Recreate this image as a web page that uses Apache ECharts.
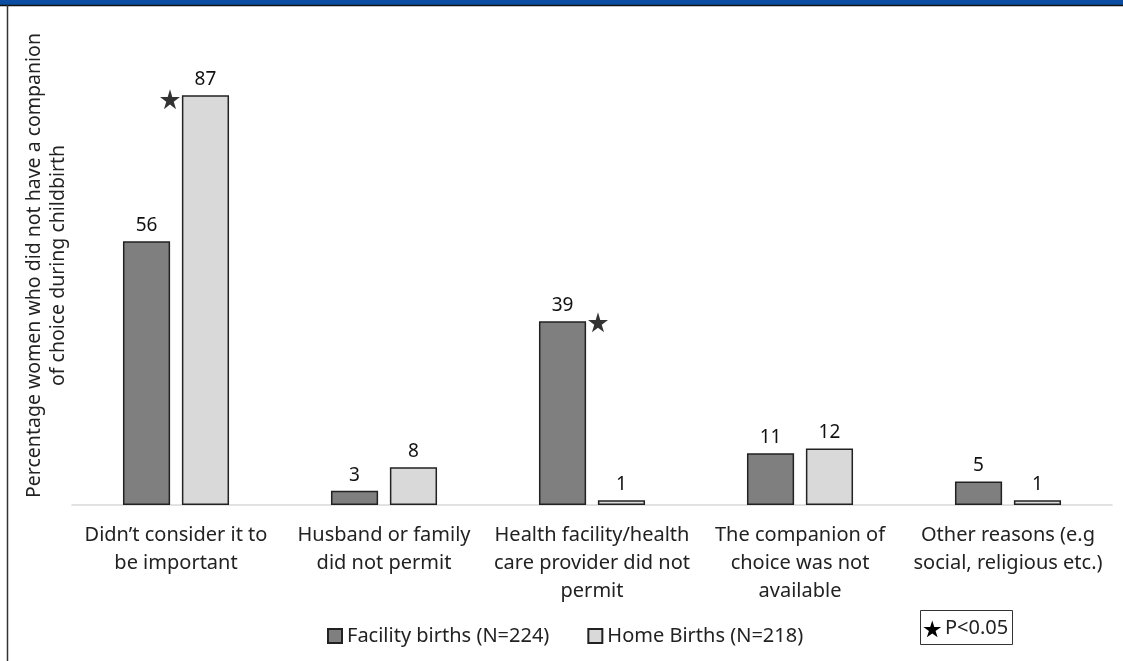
<!DOCTYPE html>
<html>
<head>
<meta charset="utf-8">
<script src="https://cdn.jsdelivr.net/npm/echarts@6/dist/echarts.min.js"></script>
<style>html,body{margin:0;padding:0;background:#fff}#c{width:1123px;height:661px}</style>
</head>
<body>
<div id="c"></div>
<script>
const categories = [
  "Didn\u2019t consider it to\nbe important",
  "Husband or family\ndid not permit",
  "Health facility/health\ncare provider did not\npermit",
  "The companion of\nchoice was not\navailable",
  "Other reasons (e.g\nsocial, religious etc.)"
];
const facilityName = "Facility births (N=224)";
const homeName = "Home Births (N=218)";
const facilityValues = [56, 3, 39, 11, 5];
const homeValues = [87, 8, 1, 12, 1];
const yAxisTitle = "Percentage women who did not have a companion\nof choice during childbirth";
const sigLabel = "P<0.05";
// significant markers: [category index, value]
const facilityStars = [[2, 39]];
const homeStars = [[0, 87]];

const FONT = "Noto Sans";
const STAR_PTS = [[50,0],[61,35],[98,35],[68,57],[79,91],[50,70],[21,91],[32,57],[2,35],[39,35]];
const STAR = 'path://M' + STAR_PTS.map(p => p.join(',')).join(' L') + ' Z';
const boxStar = STAR_PTS.map(p => [923 + p[0] * 0.185, 620.5 + p[1] * 0.185]);

const chart = echarts.init(document.getElementById('c'), null, {renderer: 'canvas'});
chart.setOption({
  backgroundColor: '#fff',
  animation: false,
  textStyle: {fontFamily: FONT},
  grid: {left: 72, right: 11, top: 34, bottom: 156, containLabel: false, outerBoundsMode: 'none'},
  legend: {
    data: [facilityName, homeName],
    left: 322, top: 620,
    itemWidth: 14, itemHeight: 14, itemGap: 38,
    icon: 'rect',
    textStyle: {fontFamily: FONT, fontSize: 20, color: '#222', lineHeight: 22}
  },
  xAxis: {
    type: 'category',
    data: categories,
    axisLine: {show: true, lineStyle: {color: '#d9d9d9', width: 1.5}},
    axisTick: {show: false},
    axisLabel: {
      interval: 0, margin: 16, fontFamily: FONT, fontSize: 20, color: '#222', lineHeight: 28
    }
  },
  yAxis: {
    type: 'value', min: 0, max: 100,
    axisLine: {show: false}, axisTick: {show: false}, axisLabel: {show: false},
    splitLine: {show: false},
    name: yAxisTitle,
    nameLocation: 'middle', nameGap: 2, nameRotate: 90,
    nameTextStyle: {fontFamily: FONT, fontSize: 19.5, color: '#222', lineHeight: 24, align: 'center', padding: [0, 0, 0, 8]}
  },
  series: [
    {
      name: facilityName, type: 'bar', data: facilityValues,
      barGap: '25%', barCategoryGap: '49%',
      itemStyle: {color: '#7f7f7f', borderColor: '#222', borderWidth: 1.5},
      label: {show: true, position: 'top', distance: 6, fontFamily: FONT, fontSize: 19, color: '#111'}
    },
    {
      name: homeName, type: 'bar', data: homeValues,
      itemStyle: {color: '#d9d9d9', borderColor: '#222', borderWidth: 1.5},
      label: {show: true, position: 'top', distance: 6, fontFamily: FONT, fontSize: 19, color: '#111'}
    },
    {
      type: 'scatter', data: facilityStars.map(d => [categories[d[0]], d[1]]),
      symbol: STAR, symbolSize: 20, symbolOffset: [6, 1],
      itemStyle: {color: '#000'}, silent: true, z: 5
    },
    {
      type: 'scatter', data: homeStars.map(d => [categories[d[0]], d[1]]),
      symbol: STAR, symbolSize: 20, symbolOffset: [-6, 4],
      itemStyle: {color: '#000'}, silent: true, z: 5
    }
  ],
  graphic: [
    {type: 'rect', shape: {x: 0, y: 0, width: 1123, height: 5}, style: {fill: '#0b4da2'}, silent: true},
    {type: 'line', shape: {x1: 0, y1: 5.5, x2: 1123, y2: 5.5}, style: {stroke: '#111', lineWidth: 1.5}, silent: true},
    {type: 'line', shape: {x1: 7.5, y1: 5, x2: 7.5, y2: 661}, style: {stroke: '#333', lineWidth: 1.5}, silent: true},
    {type: 'rect', shape: {x: 920.5, y: 610.5, width: 92, height: 34}, style: {fill: '#fff', stroke: '#333', lineWidth: 1}, silent: true},
    {type: 'polygon', shape: {points: boxStar}, style: {fill: '#000'}, silent: true, z: 10},
    {type: 'text', x: 945, y: 628, style: {text: sigLabel, font: '20px "Noto Sans"', fill: '#222', verticalAlign: 'middle'}, silent: true, z: 10}
  ]
});
</script>
</body>
</html>
